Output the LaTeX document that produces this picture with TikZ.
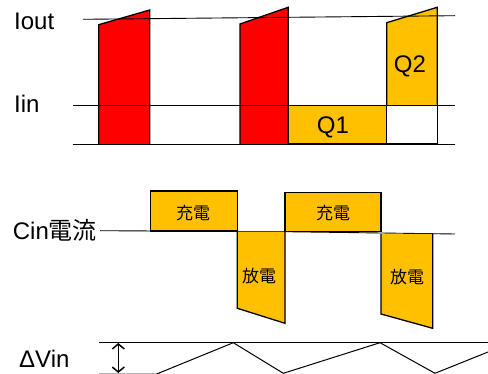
\documentclass[tikz,border=0pt]{standalone}
\usepackage{fontspec}
\setmainfont{Liberation Sans}
\newfontfamily\cjk{Noto Sans CJK JP}
\usetikzlibrary{arrows.meta}
\definecolor{qorange}{HTML}{FFC000}
\definecolor{qred}{HTML}{FF0000}
\tikzset{
  pulse/.style={draw=black, line width=1.3pt, line join=miter},
  axisline/.style={draw=black, line width=0.9pt},
  biglabel/.style={font=\fontsize{24}{28}\selectfont, inner sep=0pt},
  cjklabel/.style={font=\cjk\fontsize{17}{20}\selectfont, inner sep=0pt},
}
\begin{document}
\begin{tikzpicture}[x=1pt,y=-1pt]
\useasboundingbox (0,0) rectangle (488,374);
% ---- top: switch currents
\filldraw[pulse, fill=qred] (98.7,144) -- (98.7,24.7) -- (149.7,10) -- (149.7,144);
\filldraw[pulse, fill=qred] (240,144) -- (240,24) -- (288.3,7.3) -- (288.3,144);
\filldraw[pulse, fill=qorange] (288.3,105.3) rectangle (386.7,144);
\filldraw[pulse, fill=qorange] (386.7,105) -- (386.7,22.7) -- (437.3,7.3) -- (437.3,105);
\draw[pulse] (386.7,105.3) rectangle (437.3,144);
\draw[axisline] (83,19.3) -- (455,15.7);
\draw[axisline] (73,105.3) -- (455,105.3);
\draw[axisline] (73,144.3) -- (455,144.3);
\node[biglabel, anchor=west] (iout) at (14,21) {Iout};
\node[biglabel, anchor=west] (iin) at (14,104) {Iin};
\node[biglabel] (q1) at (333,127.5) {Q1};
\node[biglabel] (q2) at (410,66.5) {Q2};
% ---- middle: Cin current
\draw[axisline] (100,230.7) -- (285,231.7) -- (455,234);
\filldraw[pulse, fill=qorange] (150.7,231) rectangle (237.3,191);
\filldraw[pulse, fill=qorange] (237.3,231.7) -- (237.3,308.3) -- (285,323.3) -- (285,231.7);
\filldraw[pulse, fill=qorange] (285,231.7) rectangle (381,192.7);
\filldraw[pulse, fill=qorange] (381,234) -- (381,314) -- (432.7,328.3) -- (432.7,234);
\node[biglabel, anchor=west] (cin) at (12.7,230) {Cin{\cjk 電流}};
\node[cjklabel] (ch1) at (193,213) {充電};
\node[cjklabel] (ch2) at (333,213.5) {充電};
\node[cjklabel] (dis1) at (259,276) {放電};
\node[cjklabel] (dis2) at (407,277) {放電};
% ---- bottom: input voltage ripple
\draw[axisline] (99.3,342.7) -- (488,342.7);
\draw[draw=black!30, line width=0.9pt] (99.3,373.3) -- (160,373.3);
\draw[line width=1pt] (156.7,374) -- (233.3,342.7) -- (283.3,373.3) -- (380,342.7) -- (435,373.3) -- (488,352);
\coordinate (atop) at (118.3,343);
\coordinate (abot) at (118.3,373);
\draw[line width=1.5pt, {Straight Barb[length=5pt,width=12pt]}-{Straight Barb[length=5pt,width=12pt]}] (atop) -- (abot);
\node[biglabel, anchor=west] (dv) at (19,359) {ΔVin};
\end{tikzpicture}
\end{document}
